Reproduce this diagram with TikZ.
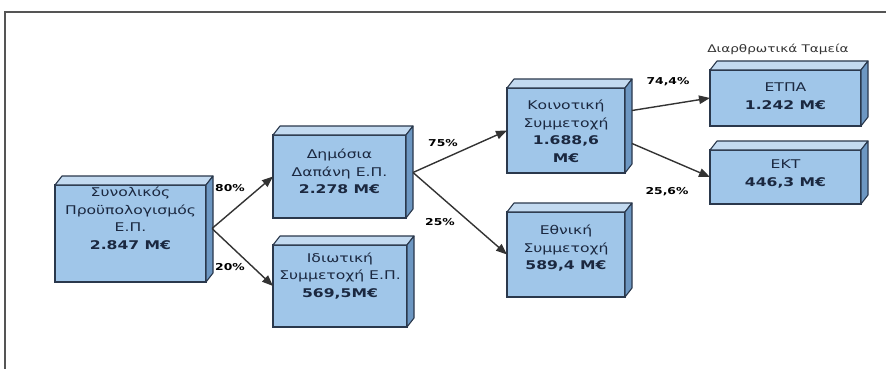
\documentclass[tikz,border=0pt]{standalone}
\usepackage{fontspec}
\setmainfont{DejaVu Sans}
\newfontfamily\boxfont[FakeStretch=1.3]{DejaVu Sans}
\usetikzlibrary{arrows.meta}

\definecolor{frontblue}{HTML}{A0C6E9}
\definecolor{topblue}{HTML}{C3DAF0}
\definecolor{sideblue}{HTML}{6D97C2}
\definecolor{edgecol}{HTML}{2A384C}
\definecolor{inkcol}{HTML}{1B2840}
\definecolor{framecol}{HTML}{555555}

% depth of the oblique box faces
\newcommand\dx{7}
\newcommand\dy{9}
% top and right faces of a box whose front face is node #1
\newcommand\boxfaces[1]{%
  \filldraw[topface] (#1.north west) -- ++(\dx,-\dy)
    -- ([shift={(\dx,-\dy)}]#1.north east) -- (#1.north east) -- cycle;
  \filldraw[sideface] (#1.north east) -- ++(\dx,-\dy)
    -- ([shift={(\dx,-\dy)}]#1.south east) -- (#1.south east) -- cycle;
}

\tikzset{
  front/.style={draw=edgecol, fill=frontblue, line width=1.1pt,
    inner sep=0pt, outer sep=0pt},
  topface/.style={draw=edgecol, fill=topblue, line width=1.1pt, line join=round},
  sideface/.style={draw=edgecol, fill=sideblue, line width=1.1pt, line join=round},
  boxtext/.style={align=center, text=inkcol, inner sep=0pt,
    font=\boxfont\fontsize{12}{17.5}\selectfont},
  pct/.style={text=black, inner sep=0pt,
    font=\boxfont\bfseries\fontsize{9.5}{11}\selectfont},
  conn/.style={draw=black!80, line width=1.4pt,
    -{Triangle[length=11pt,width=8.5pt]}},
  frameline/.style={draw=framecol, line width=1.5pt},
}

\begin{document}
\begin{tikzpicture}[x=1pt, y=-1pt]
\useasboundingbox (0,0) rectangle (886,369);

% outer frame (top and left edges)
\draw[frameline] (5,369) -- (5,12) -- (886,12);

% front faces of the boxes
\node[front, minimum width=151pt, minimum height=97pt] (b1) at (130.5,233.5) {};
\node[front, minimum width=133pt, minimum height=83pt] (b2) at (339.5,176.5) {};
\node[front, minimum width=134pt, minimum height=82pt] (b3) at (340,286) {};
\node[front, minimum width=118pt, minimum height=85pt] (b4) at (566,130.5) {};
\node[front, minimum width=118pt, minimum height=85pt] (b5) at (566,254.5) {};
\node[front, minimum width=151pt, minimum height=56pt] (b6) at (785.5,98) {};
\node[front, minimum width=151pt, minimum height=54pt] (b7) at (785.5,177) {};

\foreach \b in {b1,b2,b3,b4,b5,b6,b7} {\boxfaces{\b}}

% box texts
\node[boxtext] (t1) at ([yshift=15pt]b1.center)
  {Συνολικός\\Προϋπολογισμός\\Ε.Π.\\\textbf{2.847 Μ€}};
\node[boxtext] (t2) at ([yshift=5pt]b2.center)
  {Δημόσια\\Δαπάνη Ε.Π.\\\textbf{2.278 Μ€}};
\node[boxtext] (t3) at ([yshift=10pt]b3.center)
  {Ιδιωτική\\Συμμετοχή Ε.Π.\\\textbf{569,5Μ€}};
\node[boxtext] (t4) at ([yshift=-1pt]b4.center)
  {Κοινοτική\\Συμμετοχή\\\textbf{1.688,6}\\\textbf{Μ€}};
\node[boxtext] (t5) at ([yshift=6pt]b5.center)
  {Εθνική\\Συμμετοχή\\\textbf{589,4 Μ€}};
\node[boxtext] (t6) at ([yshift=2pt]b6.center)
  {ΕΤΠΑ\\\textbf{1.242 Μ€}};
\node[boxtext] (t7) at ([yshift=3pt]b7.center)
  {ΕΚΤ\\\textbf{446,3 Μ€}};

% group title above the fund boxes
\node[text=black!80, inner sep=0pt,
  font=\boxfont\fontsize{10.5}{12}\selectfont] (title) at (778,49)
  {Διαρθρωτικά Ταμεία};

% start points on the right faces
\coordinate (s1) at ([shift={(6,-5)}]b1.east);
\coordinate (s2) at ([shift={(7,-4)}]b2.east);
\coordinate (s4a) at ([shift={(7,-20)}]b4.east);
\coordinate (s4b) at ([shift={(7,13)}]b4.east);

% flows
\draw[conn] (s1) -- (b2.west);
\draw[conn] (s1) -- (b3.west);
\draw[conn] (s2) -- (b4.west);
\draw[conn] (s2) -- (b5.west);
\draw[conn] (s4a) -- (b6.west);
\draw[conn] (s4b) -- (b7.west);

% shares
\node[pct] (p1) at (230,188) {80\%};
\node[pct] (p2) at (230,267) {20\%};
\node[pct] (p3) at (443,143) {75\%};
\node[pct] (p4) at (440,222) {25\%};
\node[pct] (p5) at (668,82) {74,4\%};
\node[pct] (p6) at (667,192) {25,6\%};
\end{tikzpicture}
\end{document}
